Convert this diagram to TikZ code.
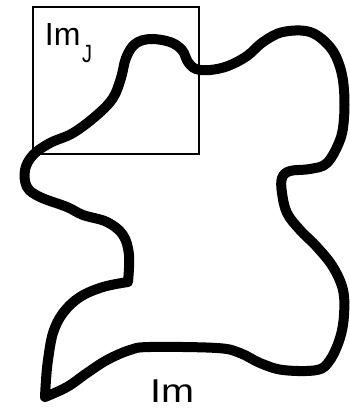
\documentclass[tikz,border=0pt]{standalone}
\usepackage{fontspec}
\setmainfont{Liberation Sans}
\begin{document}
\begin{tikzpicture}[x=1pt,y=-1pt,
  blob/.style={line width=10pt,line join=round,line cap=round},
  frame/.style={line width=2pt},
  lbl/.style={anchor=base west,inner sep=0pt,outer sep=0pt}]
\useasboundingbox (0,0) rectangle (350,410);
\draw[frame] (33,7) rectangle (199,154);
\draw[blob] plot[smooth,tension=0.6] coordinates {
 (128,282) (129,255) (123,235) (107,222) (83,215) (67,207) (40,197) (27,187) (25,170)
 (33,155) (50,143) (73,133) (97,115) (113,98) (121,78) (126,58) (135,44) (150,39)
 (170,42) (182,50) (188,62) (196,69) (210,70) (228,66) (247,56) (263,42) (283,32)
 (310,32) (330,47) (340,67) (344,90) (344,118) (340,140) (327,163) (310,169) (290,171)
 (282,178) (282,193) (287,213) (300,230) (317,247) (333,267) (343,290) (344,315)
 (340,338) (330,360) (317,370) (283,370) (260,363) (240,353) (217,348) (150,347)
 (130,350) (107,360) (87,373) (67,387) (45,397)}
 -- plot[smooth,tension=0.6] coordinates {
 (45,397) (46,380) (48,360) (53,333) (63,313) (80,297) (103,287) (128,282)} -- cycle;
\node[lbl] (imj) at (45,45) {\fontsize{32}{32}\selectfont Im\hspace{1.5pt}\raisebox{-17pt}{\scalebox{0.8}[1]{\fontsize{25}{25}\selectfont J}}};
\node[lbl] (im) at (150,402) {\scalebox{1.2}[1]{\fontsize{33}{33}\selectfont Im}};
\end{tikzpicture}
\end{document}
